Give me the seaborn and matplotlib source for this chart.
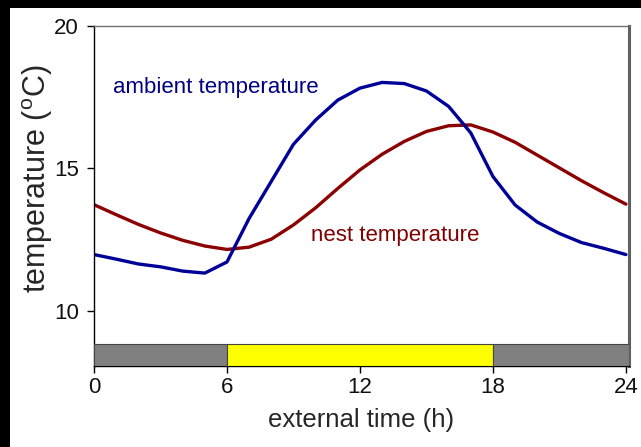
import matplotlib
matplotlib.use("Agg")
import matplotlib.pyplot as plt
import seaborn as sns
import pandas as pd
from matplotlib.patches import Rectangle

hours = list(range(25))
ambient = [11.98, 11.82, 11.65, 11.55, 11.4, 11.33, 11.72, 13.25, 14.55, 15.85,
           16.7, 17.4, 17.82, 18.02, 17.98, 17.72, 17.18, 16.25, 14.72, 13.72,
           13.12, 12.72, 12.4, 12.2, 11.98]
nest = [13.73, 13.38, 13.04, 12.74, 12.48, 12.28, 12.16, 12.24, 12.52, 13.02,
        13.62, 14.3, 14.95, 15.5, 15.95, 16.3, 16.5, 16.53, 16.28, 15.92,
        15.47, 15.02, 14.57, 14.15, 13.75]
phase_start = [0, 6, 18]
phase_len = [6, 12, 6.14]
phase_colors = ["#808080", "#ffff00", "#808080"]
xticks = [0, 6, 12, 18, 24]
yticks = [10, 15, 20]

sns.set_style("white")
plt.rcParams["font.family"] = ["Liberation Sans", "DejaVu Sans"]
plt.rcParams["mathtext.fontset"] = "custom"
plt.rcParams["mathtext.rm"] = "Liberation Sans"

df = pd.DataFrame({"h": hours, "ambient": ambient, "nest": nest})

fig = plt.figure(figsize=(6.41, 4.47), dpi=100)
fig.patch.set_facecolor("black")
fig.patches.append(Rectangle((10 / 641, 0), 1, 1 - 8 / 447, transform=fig.transFigure,
                             facecolor="white", edgecolor="none", zorder=-10))
ax = fig.add_axes([94 / 641, 1 - 366 / 447, (629 - 94) / 641, (366 - 26) / 447])

sns.lineplot(data=df, x="h", y="nest", color="#8b0000", lw=2.4, ax=ax)
sns.lineplot(data=df, x="h", y="ambient", color="#000099", lw=2.4, ax=ax)

ybot = 8.07
ax.barh([ybot + 0.39] * 3, phase_len, left=phase_start, height=0.78,
        color=phase_colors, edgecolor="#444444", linewidth=0.8, zorder=3)

ax.set_xlim(0, 24.14)
ax.set_ylim(ybot, 20)
ax.set_xticks(xticks)
ax.set_yticks(yticks)
ax.tick_params(axis="both", direction="out", length=5, width=1, color="black",
               labelsize=16, left=True, bottom=True, labelcolor="#111111")
ax.tick_params(axis="x", pad=3)
ax.tick_params(axis="y", pad=6)
ax.set_xlabel("external time (h)", fontsize=18.5, labelpad=7)
ax.set_ylabel(r"temperature ($^{\rm o}$C)", fontsize=22)
ax.yaxis.set_label_coords((55 - 94) / 535, (366 - 179) / 340)

for s in ["left", "bottom"]:
    ax.spines[s].set_color("black")
    ax.spines[s].set_linewidth(1)
ax.spines["top"].set_color("#707070")
ax.spines["top"].set_linewidth(1)
ax.spines["right"].set_color("#606060")
ax.spines["right"].set_linewidth(2.2)

ax.text(0.86, 17.83, "ambient temperature", color="#000080", fontsize=16,
        ha="left", va="center")
ax.text(9.79, 12.64, "nest temperature", color="#800000", fontsize=16,
        ha="left", va="center")

fig.savefig("out.png", dpi=100, facecolor=fig.get_facecolor())
